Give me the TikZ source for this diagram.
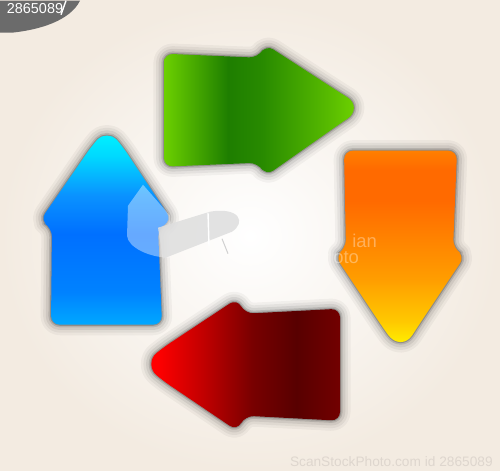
\documentclass[tikz,border=0pt]{standalone}
\usepackage{fontspec}
\setmainfont{Liberation Sans}

\definecolor{bgcream}{RGB}{243,235,225}
\definecolor{badgegray}{RGB}{107,107,107}
\definecolor{marktext}{RGB}{222,214,206}
\definecolor{greenA}{RGB}{108,208,0}
\definecolor{greenB}{RGB}{30,126,0}
\definecolor{greenC}{RGB}{40,138,0}
\definecolor{greenD}{RGB}{85,184,0}
\definecolor{greenE}{RGB}{110,210,0}
\definecolor{orangeA}{RGB}{255,127,0}
\definecolor{orangeB}{RGB}{255,106,0}
\definecolor{orangeC}{RGB}{255,157,0}
\definecolor{orangeD}{RGB}{255,200,0}
\definecolor{orangeE}{RGB}{255,240,0}
\definecolor{blueA}{RGB}{0,240,255}
\definecolor{blueB}{RGB}{0,216,255}
\definecolor{blueC}{RGB}{10,146,255}
\definecolor{blueD}{RGB}{0,112,255}
\definecolor{blueE}{RGB}{0,130,255}
\definecolor{blueF}{RGB}{0,168,255}
\definecolor{redA}{RGB}{255,0,0}
\definecolor{redB}{RGB}{192,0,0}
\definecolor{redC}{RGB}{120,0,0}
\definecolor{redD}{RGB}{88,0,0}
\definecolor{redE}{RGB}{114,0,0}

\pgfdeclarehorizontalshading{greenarrow}{100bp}{color(0bp)=(greenA); color(25bp)=(greenA); color(41.7bp)=(greenB); color(50.5bp)=(greenC); color(67bp)=(greenD); color(75bp)=(greenE); color(100bp)=(greenE)}
\pgfdeclareverticalshading{orangearrow}{100bp}{color(0bp)=(orangeE); color(25bp)=(orangeE); color(31bp)=(orangeD); color(42bp)=(orangeC); color(62bp)=(orangeB); color(70bp)=(orangeB); color(75bp)=(orangeA); color(100bp)=(orangeA)}
\pgfdeclareverticalshading{bluearrow}{100bp}{color(0bp)=(blueF); color(25bp)=(blueF); color(33.6bp)=(blueE); color(48.9bp)=(blueD); color(59bp)=(blueC); color(69.2bp)=(blueB); color(75bp)=(blueA); color(100bp)=(blueA)}
\pgfdeclarehorizontalshading{redarrow}{100bp}{color(0bp)=(redA); color(25bp)=(redA); color(27bp)=(redA); color(39.3bp)=(redB); color(52bp)=(redC); color(63.5bp)=(redD); color(75bp)=(redE); color(100bp)=(redE)}

\tikzset{
  halo/.style={
    preaction={draw=black, draw opacity=0.04, line width=12pt, line join=round},
    preaction={draw=black, draw opacity=0.05, line width=9pt, line join=round},
    preaction={draw=black, draw opacity=0.07, line width=6pt, line join=round},
    preaction={draw=black, draw opacity=0.12, line width=3pt, line join=round},
    preaction={draw=black, draw opacity=0.2, line width=1.2pt, line join=round}},
  arrowshape/.style={halo, rounded corners=5pt}
}

\begin{document}
\begin{tikzpicture}[scale=0.02]
\tikzstyle{every node}+=[inner sep=0pt]
\shade [inner color=white, outer color=bgcream] (0,0) rectangle (500,-470);
% badge in the corner
\fill [badgegray] (0,0) -- (80,0) .. controls (70,-20) and (40,-29) .. (12,-32) -- (0,-32) -- cycle;
\draw [white, line width=0.8pt] (66,0) -- (61,-14);
\draw (35,-7.5) node [white, font=\fontsize{8.2}{9}\selectfont] {2865089};
% green, right
\shade [shading=greenarrow, arrowshape] (164,-53) -- (258,-57) -- (266,-44) -- (340,-92) .. controls (356,-102) and (356,-112.3) .. (340,-123) -- (266,-175) -- (258,-162) -- (164,-166) -- cycle;
% orange, down
\shade [shading=orangearrow, arrowshape] (344,-150) -- (457,-150) -- (453,-248) -- (465,-255) -- (417,-327) .. controls (406.3,-343.7) and (395,-343.7) .. (383,-327) -- (335,-255) -- (346,-248) -- cycle;
% red, left
\shade [shading=redarrow, arrowshape] (340,-308) -- (340,-420) -- (245,-415) -- (237,-430) -- (163,-380) .. controls (149.7,-368.7) and (149.7,-358) .. (163,-347) -- (237,-298) -- (245,-313) -- cycle;
% blue, up
\shade [shading=bluearrow, arrowshape] (51,-324) -- (52,-227) -- (40,-220) -- (92,-145) .. controls (102,-133.7) and (112,-133.7) .. (122,-145) -- (172,-220) -- (158,-227) -- (162,-324) -- cycle;
% faint mark in the middle
\fill [white, opacity=0.4] (143,-184) -- (170,-215) -- (170,-257) .. controls (150,-257) and (128,-247) .. (127,-235) -- (128,-205) -- cycle;
\fill [black!13, opacity=0.85] (158,-227) -- (210,-211) .. controls (240,-206) and (246,-222) .. (232,-231) -- (163,-258) -- cycle;
\draw [white, line width=0.8pt] (208,-212) -- (209,-245);
\draw [black!18, line width=0.6pt] (222,-238) -- (228,-253);
\draw (352,-240) node [anchor=west, white, opacity=0.35, font=\fontsize{10.5}{11}\selectfont] {ian};
\draw (333,-257) node [anchor=west, white, opacity=0.35, font=\fontsize{10.5}{11}\selectfont] {oto};
\draw (493,-461) node [anchor=east, marktext, font=\fontsize{7.8}{9}\selectfont] {ScanStockPhoto.com id 2865089};
\end{tikzpicture}
\end{document}
